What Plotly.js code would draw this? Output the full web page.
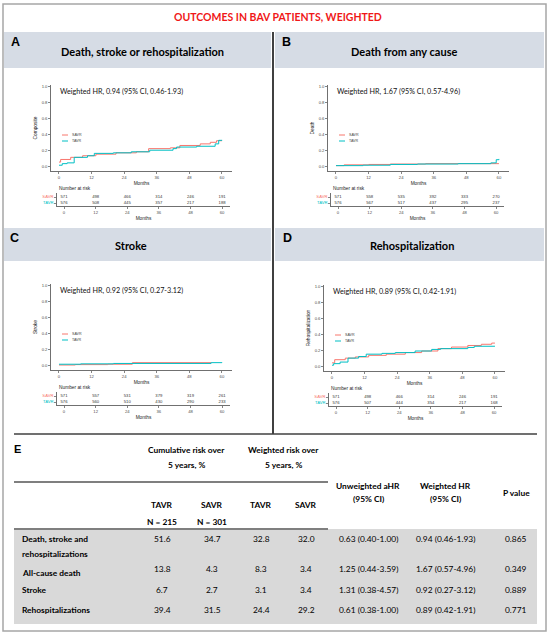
<!DOCTYPE html>
<html>
<head>
<meta charset="utf-8">
<script src="https://cdn.plot.ly/plotly-3.0.1.min.js"></script>
<style>
  body { margin: 0; background: #fff; }
  #chart { width: 550px; height: 635px; }
</style>
</head>
<body>
<div id="chart"></div>
<script>
// pixel -> paper helpers (margins are 0, so paper == whole figure)
var W = 550, H = 635;
function fx(px) { return px / W; }
function fy(py) { return 1 - py / H; }

var savrColor = '#F8766D';
var tavrColor = '#00BFC4';
var headFont = 'Lato, "Open Sans", sans-serif';
var plotFont = '"Liberation Sans", Arial, sans-serif';

// ---- Kaplan-Meier curves (months, cumulative incidence) ----
var aSavrX = [0, 0.6, 4.3, 8.7, 13.6, 21, 28.5, 33, 41, 44.5, 52, 55.7, 58, 60];
var aSavrY = [0.05, 0.083, 0.11, 0.13, 0.15, 0.167, 0.18, 0.22, 0.23, 0.26, 0.28, 0.30, 0.32, 0.32];
var aTavrX = [0, 1.2, 3, 5.6, 10.5, 13, 20, 26.6, 33.4, 42, 43.3, 50.7, 57.5, 58.8, 60];
var aTavrY = [0.01, 0.03, 0.04, 0.11, 0.13, 0.16, 0.167, 0.18, 0.20, 0.22, 0.24, 0.25, 0.28, 0.325, 0.33];

var bSavrX = [0, 3, 12, 20, 33, 60];
var bSavrY = [0.005, 0.015, 0.02, 0.025, 0.03, 0.03];
var bTavrX = [0, 10, 20, 30, 45, 57, 59, 60];
var bTavrY = [0.005, 0.01, 0.02, 0.025, 0.03, 0.04, 0.08, 0.09];

var cSavrX = [0, 6, 18, 27, 56];
var cSavrY = [0, 0.005, 0.01, 0.03, 0.03];
var cTavrX = [0, 8, 20, 56, 60];
var cTavrY = [0.01, 0.015, 0.02, 0.03, 0.035];

var dSavrX = [0, 1, 4.9, 8.6, 13.5, 20, 27, 33, 39, 44, 50, 55, 58.8, 60];
var dSavrY = [0.04, 0.08, 0.10, 0.115, 0.135, 0.15, 0.17, 0.19, 0.22, 0.24, 0.26, 0.275, 0.29, 0.29];
var dTavrX = [0, 0.6, 3, 5.9, 9.8, 12.6, 18.4, 23.3, 30.6, 36.7, 40, 50, 52.4, 60];
var dTavrY = [0.01, 0.03, 0.05, 0.10, 0.12, 0.15, 0.16, 0.17, 0.19, 0.21, 0.22, 0.235, 0.25, 0.25];

// ---- Number at risk ----
var riskMonths = [0, 12, 24, 36, 48, 60];
var aSavrRisk = [571, 498, 466, 314, 246, 191];
var aTavrRisk = [576, 508, 445, 357, 217, 188];
var bSavrRisk = [571, 558, 535, 392, 333, 270];
var bTavrRisk = [576, 567, 517, 437, 295, 237];
var cSavrRisk = [571, 557, 531, 379, 319, 261];
var cTavrRisk = [576, 560, 510, 430, 290, 233];
var dSavrRisk = [571, 498, 466, 314, 246, 191];
var dTavrRisk = [576, 507, 444, 354, 217, 168];

// ---- Table E ----
var rowLabels = [['Death, stroke and', 'rehospitalizations'], ['All-cause death'], ['Stroke'], ['Rehospitalizations']];
var cumTavr = [51.6, 13.8, 6.7, 39.4];
var cumSavr = [34.7, 4.3, 2.7, 31.5];
var wtTavr = [32.8, 8.3, 3.1, 24.4];
var wtSavr = [32.0, 3.4, 3.4, 29.2];
var unweightedHR = ['0.63 (0.40-1.00)', '1.25 (0.44-3.59)', '1.31 (0.38-4.57)', '0.61 (0.38-1.00)'];
var weightedHR = ['0.94 (0.46-1.93)', '1.67 (0.57-4.96)', '0.92 (0.27-3.12)', '0.89 (0.42-1.91)'];
var pValues = ['0.865', '0.349', '0.889', '0.771'];

var panels = [
  {letter: 'A', title: 'Death, stroke or rehospitalization', ytitle: 'Composite', hr: 'Weighted HR, 0.94 (95% CI, 0.46-1.93)',
   ox: 0, oy: 0, tox: 0, toy: 0, band: [4, 271, 32, 68], titleX: 142, letterX: 15,
   sx: aSavrX, sy: aSavrY, tx: aTavrX, ty: aTavrY, sr: aSavrRisk, tr: aTavrRisk},
  {letter: 'B', title: 'Death from any cause', ytitle: 'Death', hr: 'Weighted HR, 1.67 (95% CI, 0.57-4.96)',
   ox: 277, oy: 0, tox: 274, toy: 0, band: [275, 544, 32, 68], titleX: 404, letterX: 286,
   sx: bSavrX, sy: bSavrY, tx: bTavrX, ty: bTavrY, sr: bSavrRisk, tr: bTavrRisk},
  {letter: 'C', title: 'Stroke', ytitle: 'Stroke', hr: 'Weighted HR, 0.92 (95% CI, 0.27-3.12)',
   ox: 0, oy: 199, tox: 0, toy: 199, band: [4, 271, 228, 261], titleX: 131, letterX: 14,
   sx: cSavrX, sy: cSavrY, tx: cTavrX, ty: cTavrY, sr: cSavrRisk, tr: cTavrRisk},
  {letter: 'D', title: 'Rehospitalization', ytitle: 'Rehospitalization', hr: 'Weighted HR, 0.89 (95% CI, 0.42-1.91)',
   ox: 273, oy: 200, tox: 272, toy: 200, band: [275, 544, 228, 261], titleX: 412, letterX: 287,
   sx: dSavrX, sy: dSavrY, tx: dTavrX, ty: dTavrY, sr: dSavrRisk, tr: dTavrRisk}
];

var data = [];
var shapes = [];
var annotations = [];
var layout = {
  width: W, height: H,
  margin: {l: 0, r: 0, t: 0, b: 0},
  paper_bgcolor: '#fff', plot_bgcolor: '#fff',
  showlegend: false,
  font: {family: plotFont, color: '#333'}
};

function ann(text, x, y, opts) {
  var a = {text: text, x: fx(x), y: fy(y), xref: 'paper', yref: 'paper', showarrow: false,
           xanchor: 'center', yanchor: 'middle', font: {family: headFont, size: 7.5, color: '#000'}};
  for (var k in opts) a[k] = opts[k];
  annotations.push(a);
}
function line(x0, y0, x1, y1, color, width) {
  shapes.push({type: 'line', xref: 'paper', yref: 'paper', x0: fx(x0), y0: fy(y0), x1: fx(x1), y1: fy(y1),
               line: {color: color, width: width}, layer: 'above'});
}
function rect(x0, y0, x1, y1, fill) {
  shapes.push({type: 'rect', xref: 'paper', yref: 'paper', x0: fx(x0), y0: fy(y0), x1: fx(x1), y1: fy(y1),
               fillcolor: fill, line: {width: 0}, layer: 'below'});
}

// outer frame + title
shapes.push({type: 'rect', xref: 'paper', yref: 'paper', x0: fx(3), y0: fy(4), x1: fx(546), y1: fy(631),
             line: {color: '#a6a6a6', width: 1.5}, layer: 'above'});
ann('OUTCOMES IN BAV PATIENTS, WEIGHTED', 278, 17, {font: {family: headFont, size: 10.5, color: '#f01818', weight: 'bold'}});

panels.forEach(function (p, i) {
  var n = i + 1;           // KM axes 1..4
  var m = i + 5;           // risk-table axes 5..8
  var xk = n === 1 ? '' : n;
  var ox = p.ox, oy = p.oy;

  // header band
  rect(p.band[0], p.band[2], p.band[1], p.band[3], '#d6dce5');
  ann(p.letter, p.letterX, (p.band[2] + 10), {font: {family: plotFont, size: 12.5, color: '#000', weight: 'bold'}});
  ann(p.title, p.titleX, (p.band[2] + p.band[3]) / 2 + 1, {font: {family: headFont, size: 11, color: '#000', weight: 'bold'}});

  // KM curves
  data.push({x: p.sx, y: p.sy, type: 'scatter', mode: 'lines', name: 'SAVR',
             line: {shape: 'hv', color: savrColor, width: 1}, xaxis: 'x' + xk, yaxis: 'y' + xk});
  data.push({x: p.tx, y: p.ty, type: 'scatter', mode: 'lines', name: 'TAVR',
             line: {shape: 'hv', color: tavrColor, width: 1}, xaxis: 'x' + xk, yaxis: 'y' + xk});

  var kmStyle = {showline: true, linecolor: '#333', linewidth: 0.7, ticks: 'outside', ticklen: 2,
                 tickwidth: 0.6, tickcolor: '#333', showgrid: false, zeroline: false,
                 tickfont: {size: 4.2, color: '#4d4d4d'}, fixedrange: true};
  var xa = Object.assign({}, kmStyle, {
    domain: [fx(51 + ox), fx(232 + ox)], anchor: 'y' + xk,
    range: [-2.94, 63.7], tickvals: riskMonths,
    title: {text: 'Months', font: {size: 4.8, color: '#222'}, standoff: 2}
  });
  var ya = Object.assign({}, kmStyle, {
    domain: [fy(171 + oy), fy(85 + oy)], anchor: 'x' + xk,
    range: [-0.063, 1.025], tickvals: [0, 0.2, 0.4, 0.6, 0.8, 1.0],
    ticktext: ['0.0', '0.2', '0.4', '0.6', '0.8', '1.0'],
    title: {text: p.ytitle, font: {size: 4.8, color: '#222'}, standoff: 3}
  });
  layout['xaxis' + xk] = xa;
  layout['yaxis' + xk] = ya;

  // hazard ratio text + legend keys
  ann(p.hr, 58 + ox, 91 + oy, {xanchor: 'left', font: {family: headFont, size: 7.2, color: '#111'}});
  line(62 + ox, 135 + oy, 68 + ox, 135 + oy, savrColor, 1);
  line(62 + ox, 141 + oy, 68 + ox, 141 + oy, tavrColor, 1);
  ann('SAVR', 70 + ox, 135 + oy, {xanchor: 'left', font: {family: plotFont, size: 3.6, color: '#444'}});
  ann('TAVR', 70 + ox, 141 + oy, {xanchor: 'left', font: {family: plotFont, size: 3.6, color: '#444'}});

  // number at risk table
  var tox = p.tox, toy = p.toy;
  ann('Number at risk', 57 + tox, 188 + toy, {xanchor: 'left', font: {family: plotFont, size: 4.8, color: '#222'}});
  data.push({x: riskMonths, y: riskMonths.map(function () { return 1; }), text: p.sr.map(String),
             type: 'scatter', mode: 'text', textfont: {family: plotFont, size: 4.2, color: '#333'},
             xaxis: 'x' + m, yaxis: 'y' + m});
  data.push({x: riskMonths, y: riskMonths.map(function () { return 0; }), text: p.tr.map(String),
             type: 'scatter', mode: 'text', textfont: {family: plotFont, size: 4.2, color: '#333'},
             xaxis: 'x' + m, yaxis: 'y' + m});
  layout['xaxis' + m] = Object.assign({}, kmStyle, {
    domain: [fx(57 + tox), fx(230 + tox)], anchor: 'y' + m,
    range: [-2.66, 63], tickvals: riskMonths,
    title: {text: 'Months', font: {size: 4.8, color: '#222'}, standoff: 2}
  });
  layout['yaxis' + m] = Object.assign({}, kmStyle, {
    domain: [fy(206 + toy), fy(193 + toy)], anchor: 'x' + m,
    range: [-0.5, 1.67], tickvals: [0, 1],
    ticktext: ['<span style="color:' + tavrColor + '">TAVR</span>', '<span style="color:' + savrColor + '">SAVR</span>']
  });
});

// dividers between the four panels and panel E
line(273, 32, 273, 434, '#000', 1.5);
line(14, 434, 537, 434, '#404040', 1.5);

// ---- Table E ----
var bold = {family: headFont, size: 8.4, color: '#000', weight: 'bold'};
var reg = {family: headFont, size: 8.4, color: '#000'};
ann('E', 17, 449, {font: {family: plotFont, size: 11, color: '#000', weight: 'bold'}});
ann('Cumulative risk over', 186, 450, {font: bold});
ann('5 years, %', 186, 465, {font: bold});
ann('Weighted risk over', 283, 450, {font: bold});
ann('5 years, %', 283, 465, {font: bold});
line(14, 482, 328, 482, '#7f7f7f', 2);
ann('Unweighted aHR', 368, 486, {font: bold});
ann('(95% CI)', 368, 499, {font: bold});
ann('Weighted HR', 445, 486, {font: bold});
ann('(95% CI)', 445, 499, {font: bold});
ann('P value', 516, 493, {font: bold});

var colX = [162, 212, 261, 306, 368, 445, 516];
['TAVR', 'SAVR', 'TAVR', 'SAVR'].forEach(function (t, j) { ann(t, colX[j], 505, {font: bold}); });
ann('N = 215', colX[0], 522, {font: bold});
ann('N = 301', colX[1], 522, {font: bold});

rect(14, 529, 537, 624, '#d9d9d9');
line(14, 529, 328, 529, '#7f7f7f', 2);

var rowY = [539, 571, 590, 610];
rowLabels.forEach(function (lines, r) {
  lines.forEach(function (t, k) {
    ann(t, 20, rowY[r] + k * 15 + (lines.length === 1 && r === 1 ? 2 : 0), {xanchor: 'left', font: bold});
  });
  var vals = [cumTavr[r].toFixed(1), cumSavr[r].toFixed(1), wtTavr[r].toFixed(1), wtSavr[r].toFixed(1),
              unweightedHR[r], weightedHR[r], pValues[r]];
  vals.forEach(function (v, j) { ann(v, colX[j], rowY[r] - (r === 1 ? 2 : 0), {font: reg}); });
});

layout.shapes = shapes;
layout.annotations = annotations;

Plotly.newPlot('chart', data, layout, {staticPlot: true, displayModeBar: false});
</script>
</body>
</html>
